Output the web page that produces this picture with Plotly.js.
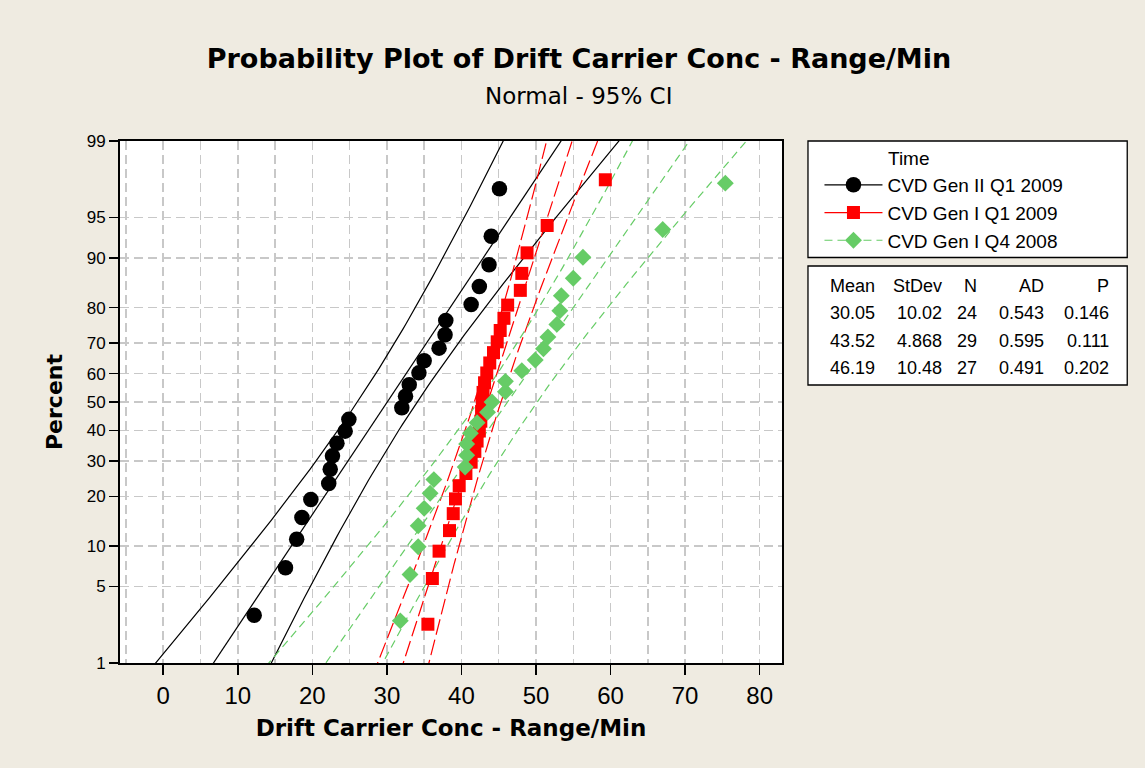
<!DOCTYPE html>
<html><head><meta charset="utf-8">
<script src="https://cdn.plot.ly/plotly-3.0.1.min.js"></script>
<style>html,body{margin:0;padding:0;background:#EFEBE1}</style>
</head><body><div id="chart" style="width:1145px;height:768px"></div>
<script>
// ---- data ----
const seriesNames = ['CVD Gen II Q1 2009', 'CVD Gen I Q1 2009', 'CVD Gen I Q4 2008'];
const genII_Q1_2009 = [12.2, 16.4, 17.9, 18.6, 19.8, 22.2, 22.4, 22.7, 23.3, 24.4, 24.9, 32.0,
  32.5, 33.0, 34.3, 35.0, 37.0, 37.8, 37.9, 41.3, 42.4, 43.7, 44.0, 45.1];
const genI_Q1_2009 = [35.5, 36.1, 37.0, 38.4, 38.9, 39.2, 39.7, 40.6, 41.3, 41.8, 42.1, 42.4,
  42.6, 42.7, 42.8, 42.9, 43.1, 43.4, 43.8, 44.3, 44.8, 45.2, 45.7, 46.2, 47.9, 48.1, 48.8, 51.5, 59.3];
const genI_Q4_2008 = [31.8, 33.1, 34.2, 34.2, 35.0, 35.8, 36.3, 40.5, 40.7, 40.7, 41.2, 42.1,
  43.5, 44.1, 45.9, 45.9, 48.1, 49.9, 51.0, 51.6, 52.8, 53.2, 53.4, 55.0, 56.3, 67.0, 75.4];
const means = [30.05, 43.52, 46.19];
const stdevs = [10.02, 4.868, 10.48];
const counts = [24, 29, 27];
const adValues = [0.543, 0.595, 0.491];
const pValues = [0.146, 0.111, 0.202];
const percentTicks = [1, 5, 10, 20, 30, 40, 50, 60, 70, 80, 90, 95, 99];
const xTickValues = [0, 10, 20, 30, 40, 50, 60, 70, 80];
const tableHeader = ['Mean', 'StDev', 'N', 'AD', 'P'];

// ---- styles ----
const colors = ['#000000', '#FF0000', '#66CC66'];
const symbols = ['circle', 'square', 'diamond'];
const msizes = [15.5, 13, 13];
const plotDash = ['solid', '16px,5px', '8px,5px'];
const legendDash = ['solid', 'solid', '8px,5px'];
const FONT = 'Liberation Sans, Arial, sans-serif';
const BOLD = 'DejaVu Sans, Verdana, sans-serif';

// inverse standard normal (Acklam)
function normInv(p) {
  const a = [-3.969683028665376e+01, 2.209460984245205e+02, -2.759285104469687e+02, 1.383577518672690e+02, -3.066479806614716e+01, 2.506628277459239e+00];
  const b = [-5.447609879822406e+01, 1.615858368580409e+02, -1.556989798598866e+02, 6.680131188771972e+01, -1.328068155288572e+01];
  const c = [-7.784894002430293e-03, -3.223964580411365e-01, -2.400758277161838e+00, -2.549732539343734e+00, 4.374664141464968e+00, 2.938163982698783e+00];
  const d = [7.784695709041462e-03, 3.224671290700398e-01, 2.445134137142996e+00, 3.754408661907416e+00];
  const pl = 0.02425;
  let q, r;
  if (p < pl) { q = Math.sqrt(-2 * Math.log(p));
    return (((((c[0]*q+c[1])*q+c[2])*q+c[3])*q+c[4])*q+c[5]) / ((((d[0]*q+d[1])*q+d[2])*q+d[3])*q+1); }
  if (p > 1 - pl) { q = Math.sqrt(-2 * Math.log(1 - p));
    return -(((((c[0]*q+c[1])*q+c[2])*q+c[3])*q+c[4])*q+c[5]) / ((((d[0]*q+d[1])*q+d[2])*q+d[3])*q+1); }
  q = p - 0.5; r = q * q;
  return (((((a[0]*r+a[1])*r+a[2])*r+a[3])*r+a[4])*r+a[5])*q / (((((b[0]*r+b[1])*r+b[2])*r+b[3])*r+b[4])*r+1);
}

const allData = [genII_Q1_2009, genI_Q1_2009, genI_Q4_2008];
const traces = [];
const zGrid = [];
for (let z = -2.8; z <= 2.8001; z += 0.05) zGrid.push(z);

// fitted lines and 95% CI bands
allData.forEach((vals, s) => {
  const mu = means[s], sd = stdevs[s], n = counts[s];
  const mid = [], lo = [], hi = [];
  zGrid.forEach(z => {
    const xp = mu + z * sd;
    const se = sd * Math.sqrt(1 / n + z * z / (2 * n));
    mid.push(xp); lo.push(xp - 1.96 * se); hi.push(xp + 1.96 * se);
  });
  [lo, mid, hi].forEach(arr => traces.push({
    x: arr, y: zGrid, type: 'scatter', mode: 'lines', showlegend: false, hoverinfo: 'skip',
    line: {color: colors[s], width: 1.2, dash: plotDash[s]}
  }));
});
// points (median ranks)
allData.forEach((vals, s) => {
  const sorted = vals.slice().sort((a, b) => a - b);
  const n = sorted.length;
  const zs = sorted.map((v, i) => normInv((i + 1 - 0.3) / (n + 0.4)));
  traces.push({x: sorted, y: zs, type: 'scatter', mode: 'markers', showlegend: false,
    marker: {color: colors[s], symbol: symbols[s], size: msizes[s], line: {width: 0}}});
});
// legend entries
seriesNames.forEach((name, s) => traces.push({
  x: [null], y: [null], type: 'scatter', mode: 'lines+markers', name: name,
  line: {color: colors[s], width: 1.2, dash: legendDash[s]},
  marker: {color: colors[s], symbol: symbols[s], size: msizes[s]}
}));

// paper-coordinate helpers (plot area: x 120..782.5, y 141..663)
const L = 120, R = 782.5, T = 141, B = 663;
const px = v => (v - L) / (R - L);
const py = v => (B - v) / (B - T);

const annotations = [
  {text: 'Normal - 95% CI', x: px(579), xref: 'paper', y: py(96), yref: 'paper', showarrow: false,
   xanchor: 'center', yanchor: 'middle', font: {family: BOLD, size: 23, color: '#000'}},
  {text: 'Time', x: px(887), y: py(159), xref: 'paper', yref: 'paper', showarrow: false,
   xanchor: 'left', yanchor: 'middle', font: {family: FONT, size: 19, color: '#000'}}
];
const colRight = [878, 945, 980, 1046.5, 1111.5];
const rowY = [286, 313.3, 341, 368.3];
tableHeader.forEach((h, c) => annotations.push({text: h, x: px(colRight[c]), y: py(rowY[0]),
  xref: 'paper', yref: 'paper', showarrow: false, xanchor: 'right', yanchor: 'middle',
  font: {family: FONT, size: 18, color: '#000'}}));
for (let s = 0; s < 3; s++) {
  const row = [means[s].toFixed(2), String(stdevs[s]), String(counts[s]), adValues[s].toFixed(3), pValues[s].toFixed(3)];
  row.forEach((t, c) => annotations.push({text: t, x: px(colRight[c]), y: py(rowY[s + 1]),
    xref: 'paper', yref: 'paper', showarrow: false, xanchor: 'right', yanchor: 'middle',
    font: {family: FONT, size: 18, color: '#000'}}));
}

const shapes = [
  {type: 'rect', xref: 'paper', yref: 'paper', x0: px(808.5), x1: px(1128), y0: py(141), y1: py(257.5),
   fillcolor: '#FFFFFF', line: {color: '#000', width: 1.3}, layer: 'below'},
  {type: 'rect', xref: 'paper', yref: 'paper', x0: px(808.5), x1: px(1128), y0: py(266), y1: py(385),
   fillcolor: '#FFFFFF', line: {color: '#000', width: 1.3}, layer: 'below'}
];

const gridStyle = {gridcolor: '#C8C8C8', gridwidth: 1.5, griddash: '9px,5px'};
const layout = {
  width: 1145, height: 768,
  paper_bgcolor: '#EFEBE1', plot_bgcolor: '#FFFFFF',
  margin: {l: L, r: 1145 - R, t: T, b: 768 - B, autoexpand: false},
  title: {text: '<b>Probability Plot of Drift Carrier Conc - Range/Min</b>', xref: 'container', x: 579 / 1145,
    xanchor: 'center', yref: 'container', y: 1 - 59 / 768, yanchor: 'middle',
    font: {family: BOLD, size: 27, color: '#000'}},
  showlegend: true,
  legend: {x: px(820), y: py(166), xanchor: 'left', yanchor: 'top', bgcolor: 'rgba(0,0,0,0)',
    borderwidth: 0, font: {family: FONT, size: 19, color: '#000'}, tracegroupgap: 0, itemclick: false,
    itemwidth: 58},
  xaxis: Object.assign({
    range: [-5.8, 83.0], tickvals: xTickValues, ticktext: xTickValues.map(String),
    showgrid: true, zeroline: false, showline: true, mirror: true, linecolor: '#000', linewidth: 2,
    ticks: 'outside', ticklen: 10, tickwidth: 1.5, tickcolor: '#000',
    tickfont: {family: FONT, size: 24, color: '#000'},
    minor: Object.assign({dtick: 5, tick0: 0, showgrid: true, ticks: ''}, gridStyle),
    title: {text: '<b>Drift Carrier Conc - Range/Min</b>', standoff: 12, font: {family: BOLD, size: 23, color: '#000'}}
  }, gridStyle),
  yaxis: Object.assign({
    range: [normInv(0.01), normInv(0.99)], tickvals: percentTicks.map(p => normInv(p / 100)),
    ticktext: percentTicks.map(String),
    showgrid: true, zeroline: false, showline: true, mirror: true, linecolor: '#000', linewidth: 2,
    ticks: 'outside', ticklen: 9, tickwidth: 1.5, tickcolor: '#000',
    tickfont: {family: FONT, size: 17, color: '#000'},
    title: {text: '<b>Percent</b>', standoff: 18, font: {family: BOLD, size: 22, color: '#000'}}
  }, gridStyle),
  annotations: annotations,
  shapes: shapes
};
Plotly.newPlot('chart', traces, layout, {displayModeBar: false, staticPlot: true});
</script>
</body></html>
